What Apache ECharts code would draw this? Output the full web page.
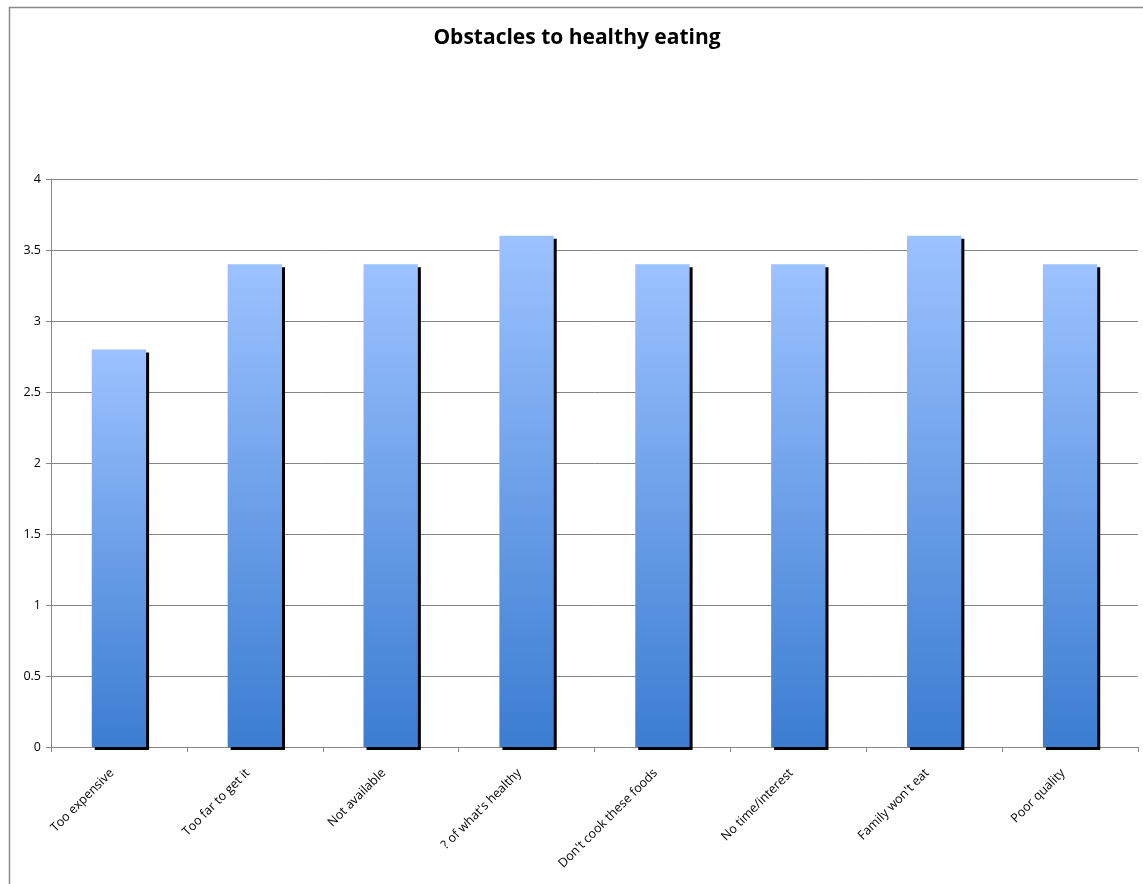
<!DOCTYPE html>
<html>
<head>
<meta charset="utf-8">
<script src="https://cdn.jsdelivr.net/npm/echarts@6/dist/echarts.min.js"></script>
<style>
  html, body { margin: 0; padding: 0; background: #fff; }
  #chart { width: 1143px; height: 884px; }
</style>
</head>
<body>
<div id="chart"></div>
<script>
// obstacles and their average score
var categories = ['Too expensive', 'Too far to get it', 'Not available', "? of what's healthy",
  "Don't cook these foods", 'No time/interest', "Family won't eat", 'Poor quality']
var scores = [2.8, 3.4, 3.4, 3.6, 3.4, 3.4, 3.6, 3.4]
var yTicks = [0, 0.5, 1, 1.5, 2, 2.5, 3, 3.5, 4]

var font = '"Open Sans", "Liberation Sans", sans-serif'
var chart = echarts.init(document.getElementById('chart'))
chart.setOption({
  animation: false,
  graphic: [
    {
      type: 'rect',
      shape: { x: 9.5, y: 7.5, width: 1200, height: 1000 },
      style: { fill: 'none', stroke: '#8a8a8a', lineWidth: 1.5 },
      silent: true
    },
    {
      type: 'text',
      x: 577,
      y: 38,
      style: {
        text: 'Obstacles to healthy eating',
        font: 'bold 21px ' + font,
        fill: '#000',
        align: 'center',
        verticalAlign: 'middle'
      }
    }
  ],
  grid: { left: 51, right: 5, top: 179, bottom: 137 },
  xAxis: {
    type: 'category',
    data: categories,
    axisLine: { lineStyle: { color: '#868686' } },
    axisTick: { show: true, alignWithLabel: false, length: 5, lineStyle: { color: '#868686' } },
    axisLabel: {
      rotate: 45, color: '#000', fontSize: 12.5, fontFamily: font,
      margin: 17, interval: 0, padding: [0, 10, 0, 0]
    }
  },
  yAxis: {
    type: 'value',
    min: yTicks[0],
    max: yTicks[yTicks.length - 1],
    interval: 0.5,
    axisLine: { show: true, lineStyle: { color: '#868686' } },
    axisTick: { show: true, length: 5, lineStyle: { color: '#868686' } },
    axisLabel: { color: '#000', fontSize: 12.5, fontFamily: font, margin: 10 },
    splitLine: { lineStyle: { color: '#868686' } }
  },
  series: [
    {
      type: 'bar',
      data: scores,
      barWidth: '40%',
      itemStyle: {
        color: new echarts.graphic.LinearGradient(0, 0, 0, 1, [
          { offset: 0, color: '#9cc2ff' },
          { offset: 1, color: '#3b7dd1' }
        ]),
        shadowColor: '#000',
        shadowOffsetX: 3,
        shadowOffsetY: 3,
        shadowBlur: 0
      }
    }
  ]
})
</script>
</body>
</html>
